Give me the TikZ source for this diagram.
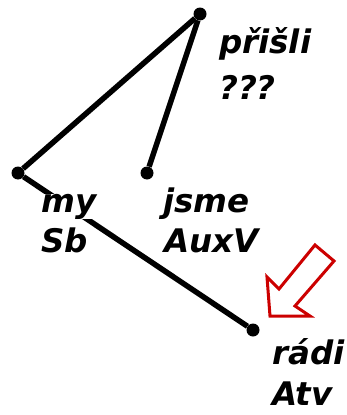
\documentclass[tikz,border=0pt]{standalone}
\usepackage{fontspec}
\setmainfont{DejaVu Sans}
\definecolor{arrowred}{RGB}{204,0,0}
\begin{document}
\begin{tikzpicture}[x=1pt,y=-1pt,
  dot/.style={circle,fill=black,inner sep=0pt,minimum size=13pt},
  lbl/.style={anchor=base west,fill=white,inner sep=0pt,font=\fontsize{32.5}{40}\selectfont\bfseries\itshape},
  edge/.style={line width=5.5pt},
  hollowarrow/.style={draw=arrowred,line width=3pt,line join=miter,fill=white}]
\useasboundingbox (0,0) rectangle (347,415);
% tree nodes
\node[dot] (root) at (200,14) {};
\node[dot] (my) at (18,173) {};
\node[dot] (jsme) at (147,173) {};
\node[dot] (radi) at (253,330) {};
% edges
\draw[edge] (root) -- (my);
\draw[edge] (root) -- (jsme);
\draw[edge] (my) -- (radi);
% labels
\node[lbl] (lroot1) at (219,53) {přišli};
\node[lbl] (lroot2) at (219,99) {???};
\node[lbl] (lmy1) at (41,212) {my};
\node[lbl] (lmy2) at (41,252) {Sb};
\node[lbl] (ljsme1) at (163,212) {jsme};
\node[lbl] (ljsme2) at (164,252) {AuxV};
\node[lbl] (lradi1) at (272,364) {rádi};
\node[lbl] (lradi2) at (272,405) {Atv};
% red hollow arrow
\draw[hollowarrow] (315,245) -- (334,261) -- (295,306) -- (310,316) -- (270,316) -- (267,277) -- (279,289) -- cycle;
\end{tikzpicture}
\end{document}
